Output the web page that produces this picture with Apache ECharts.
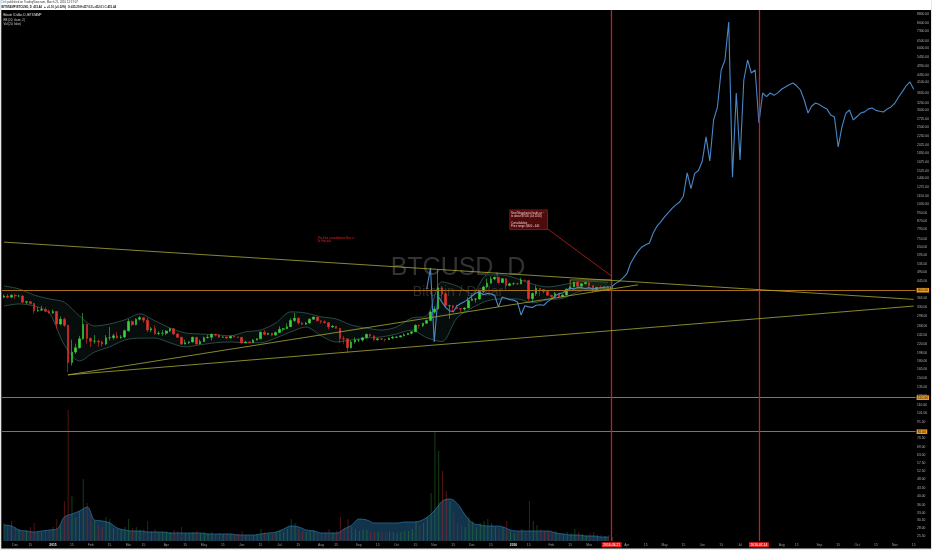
<!DOCTYPE html>
<html><head><meta charset="utf-8">
<script src="https://cdn.jsdelivr.net/npm/echarts@6/dist/echarts.min.js"></script>
<style>html,body{margin:0;padding:0;background:#fff;}#c{width:932px;height:550px;}</style>
</head><body><div id="c"></div>
<script>
// ---- categories: 3-day buckets from 2014-11-22 ----
const startDate = '2014-11-22';
const stepDays = 3;
const numCats = 242;
const monthNames = ['Jan','Feb','Mar','Apr','May','Jun','Jul','Aug','Sep','Oct','Nov','Dec'];

// ---- BITSTAMP BTCUSD candles (3-day buckets) ----
const firstOpen = 370;
const closes = [
375,370,378,375,375,350,352,345,318,320,
322,316,310,315,274,289,270,178,200,210,
232,273,233,226,226,224,219,235,235,240,
235,237,254,282,272,289,294,286,256,260,
246,247,247,253,260,245,236,219,222,224,
236,219,225,235,236,244,242,236,237,234,
239,237,236,222,224,222,229,232,250,244,
247,242,249,258,260,266,285,292,277,273,
277,289,296,284,281,278,265,267,261,233,
232,210,224,229,229,235,244,240,230,232,
231,230,234,236,237,240,243,247,251,270,
269,276,285,313,324,411,385,336,336,330,
326,324,328,357,362,363,394,415,433,454,
462,436,455,422,430,430,429,449,446,364,
386,409,403,394,378,373,386,372,379,405,
415,438,419,430,436,421,404,412,410,415,
408,415.44];
const highs = [
382,383,382,384,380,378,355,353,347,332,
336,330,322,322,316,298,295,272,230,220,
240,310,275,236,242,230,228,242,265,246,
250,242,258,290,285,292,300,295,294,265,
270,253,256,256,262,262,247,238,230,226,
238,236,230,238,243,246,246,244,239,238,
241,242,238,236,227,226,231,233,252,256,
248,248,252,267,262,276,292,310,296,281,
280,292,298,296,285,286,280,271,268,262,
240,233,228,236,232,236,246,245,241,234,
234,232,236,240,239,241,247,248,253,273,
272,278,288,318,334,502,420,390,340,340,
340,328,330,370,382,365,398,420,455,467,
466,463,457,458,435,436,435,460,450,446,
390,422,409,405,395,380,392,387,382,407,
417,440,442,432,440,438,422,415,422,417,
419,417];
const lows = [
366,365,368,364,370,346,342,340,308,314,
318,312,308,308,260,270,265,160,172,196,
208,230,220,212,220,212,213,216,228,230,
232,232,234,252,268,270,285,278,250,250,
243,242,240,242,250,243,234,216,218,219,
223,217,218,224,233,228,238,234,235,231,
233,236,235,220,221,221,222,228,231,242,
242,239,241,248,252,259,265,280,272,271,
272,275,287,282,275,276,258,262,260,222,
220,198,208,220,224,225,233,237,227,227,
229,225,229,232,234,236,239,242,244,252,
260,265,275,283,308,322,360,330,290,313,
324,312,318,328,356,348,360,388,412,430,
448,428,434,405,418,425,426,428,442,355,
350,375,375,385,375,365,365,368,370,378,
398,414,416,415,428,416,390,400,408,408,
404,405];

// ---- blue fractal overlay (starts at bucket 112) ----
const fractalStart = 112;
const fractal = [
405,513,224,375,351,330,318,314,335,345,
352,362,375,388,392,380,386,384,378,332,
371,366,360,358,352,303,336,332,330,338,
340,338,352,362,375,385,388,400,410,405,
414,412,408,412,405,410,411,413,415,416,
432,442,459,480,540,581,620,650,665,679,
760,820,860,910,955,1000,1040,1075,1150,1490,
1250,1480,1530,1700,2230,1700,2700,3100,4700,5275,
8070,1420,3644,1720,4215,5275,4560,4715,2605,3644,
3500,3644,3550,3650,3800,3897,4000,4077,3950,3769,
3369,2913,3150,3259,3200,3116,3050,2850,2786,1991,
2491,2900,3013,2695,2800,2913,2950,3050,3080,3000,
2970,2946,3050,3116,3250,3485,3700,3950,4123,3800];

// ---- Bollinger band contours (every 4th bucket) ----
const bbStep = 4;
const bbUpper = [420,406,379,363,350,300,268,274,287,307,284,262,248,245,243,240,251,256,277,314,310,297,290,271,262,256,265,293,300,439,420,385,475,475,455,429,415,425,439,442,436];
const bbLower = [335,343,335,310,217,181,200,212,229,234,234,222,212,217,222,224,222,222,234,251,265,240,224,229,234,237,245,256,235,225,293,328,355,363,363,347,359,365,392,405,402];

// ---- volume (per bucket) and volume average (every 2nd bucket) ----
const volumes = [
18,16,20,14,12,10,11,14,18,10,9,11,10,14,22,16,40,131,45,24,
30,62,38,26,20,16,14,24,22,13,12,11,14,22,13,14,11,12,20,10,
12,9,9,10,9,11,10,14,8,8,9,10,8,9,8,9,7,8,7,8,
7,7,7,10,6,6,6,7,12,9,7,7,9,11,9,12,22,18,12,10,
9,10,11,9,8,9,12,9,10,24,14,22,14,12,10,12,11,10,9,9,
9,8,9,9,8,9,10,10,12,20,16,18,24,48,110,90,70,50,40,28,
18,16,14,24,20,14,18,20,22,18,14,12,14,20,10,8,9,12,8,40,
20,16,12,10,10,9,10,8,7,9,8,12,9,7,6,8,9,6,6,5,
6,4];
const volMaStep = 2;
const volMa = [16,15,11,10,9,10,11,12,24,27,30,34,21,20,18,13,11,10,10,9,9,9,8,8,8,8,8,7,7,7,7,6,6,6,7,8,9,12,15,14,11,10,8,8,8,12,16,22,21,18,18,18,18,19,19,20,24,31,40,42,37,26,18,16,15,15,14,11,10,10,10,10,10,8,7,6,6,5,5,4,4];

// ---- right axis tick labels ----
const priceTicks = [8800,8000,7300,6500,6000,5450,4950,4450,4100,3650,3250,3000,2725,2500,2250,2025,1850,1675,1525,1400,1275,1150,1050,950,870,790,710,650,595,535,490,445,365,330,298,268,242,220,198,180,165,150,135,122,110,101,91.5,76.5,69,63,57.5,52.5,48,43.5,40,36,33,30.5,28,25.5];

// ---- drawings (bucket index, price) ----
const trendLines = [
  [[0, 686], [241, 361]],
  [[17, 155], [241, 335]],
  [[17, 155], [168, 425]]
];
const hLines = [400, 120, 82];
const lastPrice = 415.44;
const markerDates = ['2016-03-21', '2016-07-14'];
const callout = [[144, 795], [161, 468]];
const noteBox = [[134, 984], [144, 789]];
const consolidationBox = [[150, 449], [161, 406]];
const noteBoxText = ['Next Megafractal leads us ~', 'to about $7500 (Jul 2016)', '', 'Consolidation', 'Price range: $400 - 440'];
const redNote = {coord: [83, 703], text: 'The blue consolidation Box is ~\n3x Fractals'};

// ---- build ----
const DAY = 86400000;
const base = Date.parse(startDate + 'T00:00:00Z');
const catDates = [];
for (let i = 0; i < numCats; i++) catDates.push(new Date(base + i * stepDays * DAY));
const categories = catDates.map(d => d.toISOString().slice(0, 10));
const markerIdx = markerDates.map(s => Math.floor((Date.parse(s + 'T00:00:00Z') - base) / DAY / stepDays));

const xLabels = catDates.map((d0, i) => {
  for (const m of markerIdx) if (Math.abs(i - m) <= 2) return '';
  for (let k = 0; k < stepDays; k++) {
    const d = new Date(d0.getTime() + k * DAY);
    const day = d.getUTCDate();
    if (day === 1) return d.getUTCMonth() === 0 ? '{y|' + d.getUTCFullYear() + '}' : monthNames[d.getUTCMonth()];
    if (day === 15) return '15';
  }
  return '';
});

const UP = '#3bd23b', DOWN = '#e5302c';
const candleData = closes.map((c, i) => {
  const o = i === 0 ? firstOpen : closes[i - 1];
  return [o, c, Math.min(lows[i], o, c), Math.max(highs[i], o, c)];
});
const volData = volumes.map((v, i) => ({
  value: v,
  itemStyle: {color: candleData[i][1] >= candleData[i][0] ? 'rgba(50,150,50,0.42)' : 'rgba(170,35,35,0.5)'}
}));
const volMaData = volMa.map((v, k) => [k * volMaStep, v]);
const bbLowerData = bbLower.map((v, k) => [k * bbStep, v]);
const bbBandData = bbUpper.map((v, k) => [k * bbStep, v - bbLower[k]]);
const fractalData = fractal.map((v, k) => [fractalStart + k, v]);

const fs = 3.3;
const ORANGE = '#a86e1a', RED = '#c41f1f', OLIVE = '#a9ab33';

const trendMl = trendLines.map(t => [
  {coord: t[0], lineStyle: {color: OLIVE, width: 0.8, type: 'solid'}},
  {coord: t[1]}
]);
trendMl.push([
  {coord: callout[0], lineStyle: {color: '#c2201e', width: 0.8, type: 'solid'}},
  {coord: callout[1]}
]);
const hMl = hLines.map(v => ({yAxis: v, label: {formatter: v.toFixed(2)}}));
const vMl = markerIdx.map((ix, k) => ({xAxis: ix, label: {formatter: markerDates[k]}}));

const chart = echarts.init(document.getElementById('c'), null, {renderer: 'canvas'});
chart.setOption({
  animation: false,
  backgroundColor: '#000',
  textStyle: {fontFamily: 'Liberation Sans, Arial, sans-serif'},
  graphic: [
    {type: 'rect', shape: {x: 0, y: 0, width: 932, height: 10}, style: {fill: '#fff'}, z: 10},
    {type: 'rect', shape: {x: 0, y: 0, width: 1.3, height: 550}, style: {fill: '#e8e8e8'}, z: 10},
    {type: 'rect', shape: {x: 0, y: 548.6, width: 932, height: 1.4}, style: {fill: '#e8e8e8'}, z: 10},
    {type: 'rect', shape: {x: 931, y: 0, width: 1, height: 550}, style: {fill: '#e8e8e8'}, z: 10},
    {type: 'text', x: 1.5, y: 1, z: 11, style: {text: '{b|Dirk} published on TradingView.com, March 21, 2016 12:57:07', rich: {b: {fill: '#2a6fcf', fontSize: 2.8}}, fontSize: 2.8, fill: '#333', fontFamily: 'Liberation Sans'}},
    {type: 'text', x: 1.5, y: 5.3, z: 11, style: {text: 'BITSTAMP:BTCUSD, D  415.44  \u25B2 +0.10 (+0.02%)  O:415.29 H:417.03 L:412.01 C:415.44', fontSize: 2.8, fontWeight: 'bold', fill: '#111', fontFamily: 'Liberation Sans'}},
    {type: 'text', x: 3.5, y: 14.2, z: 11, style: {text: 'Bitcoin / Dollar, D, BITSTAMP', fontSize: 2.9, fill: '#e6e6e6', fontFamily: 'Liberation Sans'}},
    {type: 'text', x: 3.5, y: 18.4, z: 11, style: {text: 'BB (20, close, 2)', fontSize: 2.9, fill: '#cfcfcf', fontFamily: 'Liberation Sans'}},
    {type: 'text', x: 3.5, y: 22.6, z: 11, style: {text: 'Vol (20, false)', fontSize: 2.9, fill: '#cfcfcf', fontFamily: 'Liberation Sans'}},
    {type: 'text', x: 458, y: 268, z: 0, style: {text: 'BTCUSD, D', fontSize: 25, fill: '#333333', align: 'center', verticalAlign: 'middle', fontFamily: 'Liberation Sans'}},
    {type: 'text', x: 458, y: 292, z: 0, style: {text: 'Bitcoin / Dollar', fontSize: 14, fill: '#2b2b2b', align: 'center', verticalAlign: 'middle', fontFamily: 'Liberation Sans'}}
  ],
  grid: [
    {left: 2, right: 15, top: 10, bottom: 9},
    {left: 2, right: 15, top: 400, bottom: 9}
  ],
  xAxis: [
    {type: 'category', gridIndex: 0, data: categories, boundaryGap: true,
     axisLine: {show: false}, axisTick: {show: false}, splitLine: {show: false},
     axisLabel: {interval: (idx) => xLabels[idx] !== '', formatter: (v, idx) => xLabels[idx],
                 color: '#9d9d9d', fontSize: fs, margin: 2.2,
                 rich: {y: {fontWeight: 'bold', color: '#e8e8e8', fontSize: fs}}}},
    {type: 'category', gridIndex: 1, data: categories, boundaryGap: true, show: false}
  ],
  yAxis: [
    {type: 'log', gridIndex: 0, position: 'right', logBase: 10, min: 24.1, max: 9235,
     axisLine: {show: false}, axisTick: {show: false}, splitLine: {show: false},
     axisLabel: {customValues: priceTicks, formatter: v => Number(v).toFixed(2), color: '#b4b4b4', fontSize: fs, margin: 1.5}},
    {type: 'value', gridIndex: 1, min: 0, max: 141, show: false}
  ],
  series: [
    {name: 'BB lower', type: 'line', stack: 'bb', data: bbLowerData, symbol: 'none', smooth: 0.3, silent: true, z: 1,
     color: '#3a6561', lineStyle: {color: '#3a6561', width: 0.7},
     markLine: {symbol: ['none', 'none'], silent: true, animation: false, z: 5,
                lineStyle: {color: ORANGE, width: 1.2, type: 'solid', opacity: 1},
                label: {show: true, position: 'end', distance: 1, backgroundColor: '#f39c1c', color: '#111', fontSize: fs, padding: [0.8, 1.2]},
                data: hMl}},
    {name: 'BB upper', type: 'line', stack: 'bb', data: bbBandData, symbol: 'none', smooth: 0.3, silent: true, z: 1,
     color: '#3a6561', lineStyle: {color: '#3a6561', width: 0.7}, areaStyle: {color: 'rgba(40,90,86,0.2)'},
     markLine: {symbol: ['none', 'none'], silent: true, animation: false, z: 5,
                lineStyle: {color: RED, width: 1.3, type: 'solid', opacity: 1},
                label: {show: true, position: 'start', distance: 1.2, backgroundColor: '#e21d1d', color: '#fff', fontSize: fs, padding: [1, 1.5]},
                data: vMl}},
    {name: 'Volume', type: 'bar', xAxisIndex: 1, yAxisIndex: 1, data: volData, barWidth: 0.8, silent: true, z: 2},
    {name: 'Vol MA', type: 'line', xAxisIndex: 1, yAxisIndex: 1, data: volMaData, symbol: 'none', smooth: 0.4, silent: true, z: 2,
     lineStyle: {color: '#2c6c9a', width: 0.8}, areaStyle: {color: 'rgba(26,78,114,0.95)'}},
    {name: 'BTCUSD', type: 'candlestick', data: candleData, barWidth: 2.1, silent: true, z: 3,
     itemStyle: {color: UP, color0: DOWN, borderColor: UP, borderColor0: DOWN, borderWidth: 0.6},
     markLine: {symbol: ['none', 'none'], silent: true, animation: false, label: {show: false},
                lineStyle: {color: OLIVE, width: 0.8, type: 'solid'}, data: trendMl},
     markArea: {silent: true, data: [
       [{coord: noteBox[0], itemStyle: {color: '#4e0b0b', borderColor: '#b52222', borderWidth: 0.6},
         label: {show: true, position: 'insideTopLeft', distance: 1.6, formatter: noteBoxText.join('\n'), color: '#f2c8c8', fontSize: 2.7, lineHeight: 3.4}},
        {coord: noteBox[1]}],
       [{coord: consolidationBox[0], itemStyle: {color: 'rgba(110,140,40,0.16)', borderColor: '#a2a536', borderWidth: 0.7}, label: {show: false}},
        {coord: consolidationBox[1]}]
     ]},
     markPoint: {silent: true, data: [
       {coord: redNote.coord, symbol: 'circle', symbolSize: 0.5, itemStyle: {color: 'rgba(0,0,0,0)'},
        label: {show: true, position: 'right', distance: 0, formatter: redNote.text, color: '#e32424', fontSize: 2.8, lineHeight: 3.5, align: 'left'}}
     ]}},
    {name: 'Fractal', type: 'line', data: fractalData, symbol: 'none', silent: true, z: 4,
     color: '#4a87c7', lineStyle: {color: '#4a87c7', width: 1.1},
     markLine: {symbol: ['none', 'none'], silent: true, animation: false,
                lineStyle: {opacity: 0},
                label: {show: true, position: 'end', distance: 1, formatter: lastPrice.toFixed(2), backgroundColor: '#2fe02a', color: '#111', fontSize: fs, padding: [0.8, 1.2]},
                data: [{yAxis: lastPrice}]}}
  ]
});
</script>
</body></html>
